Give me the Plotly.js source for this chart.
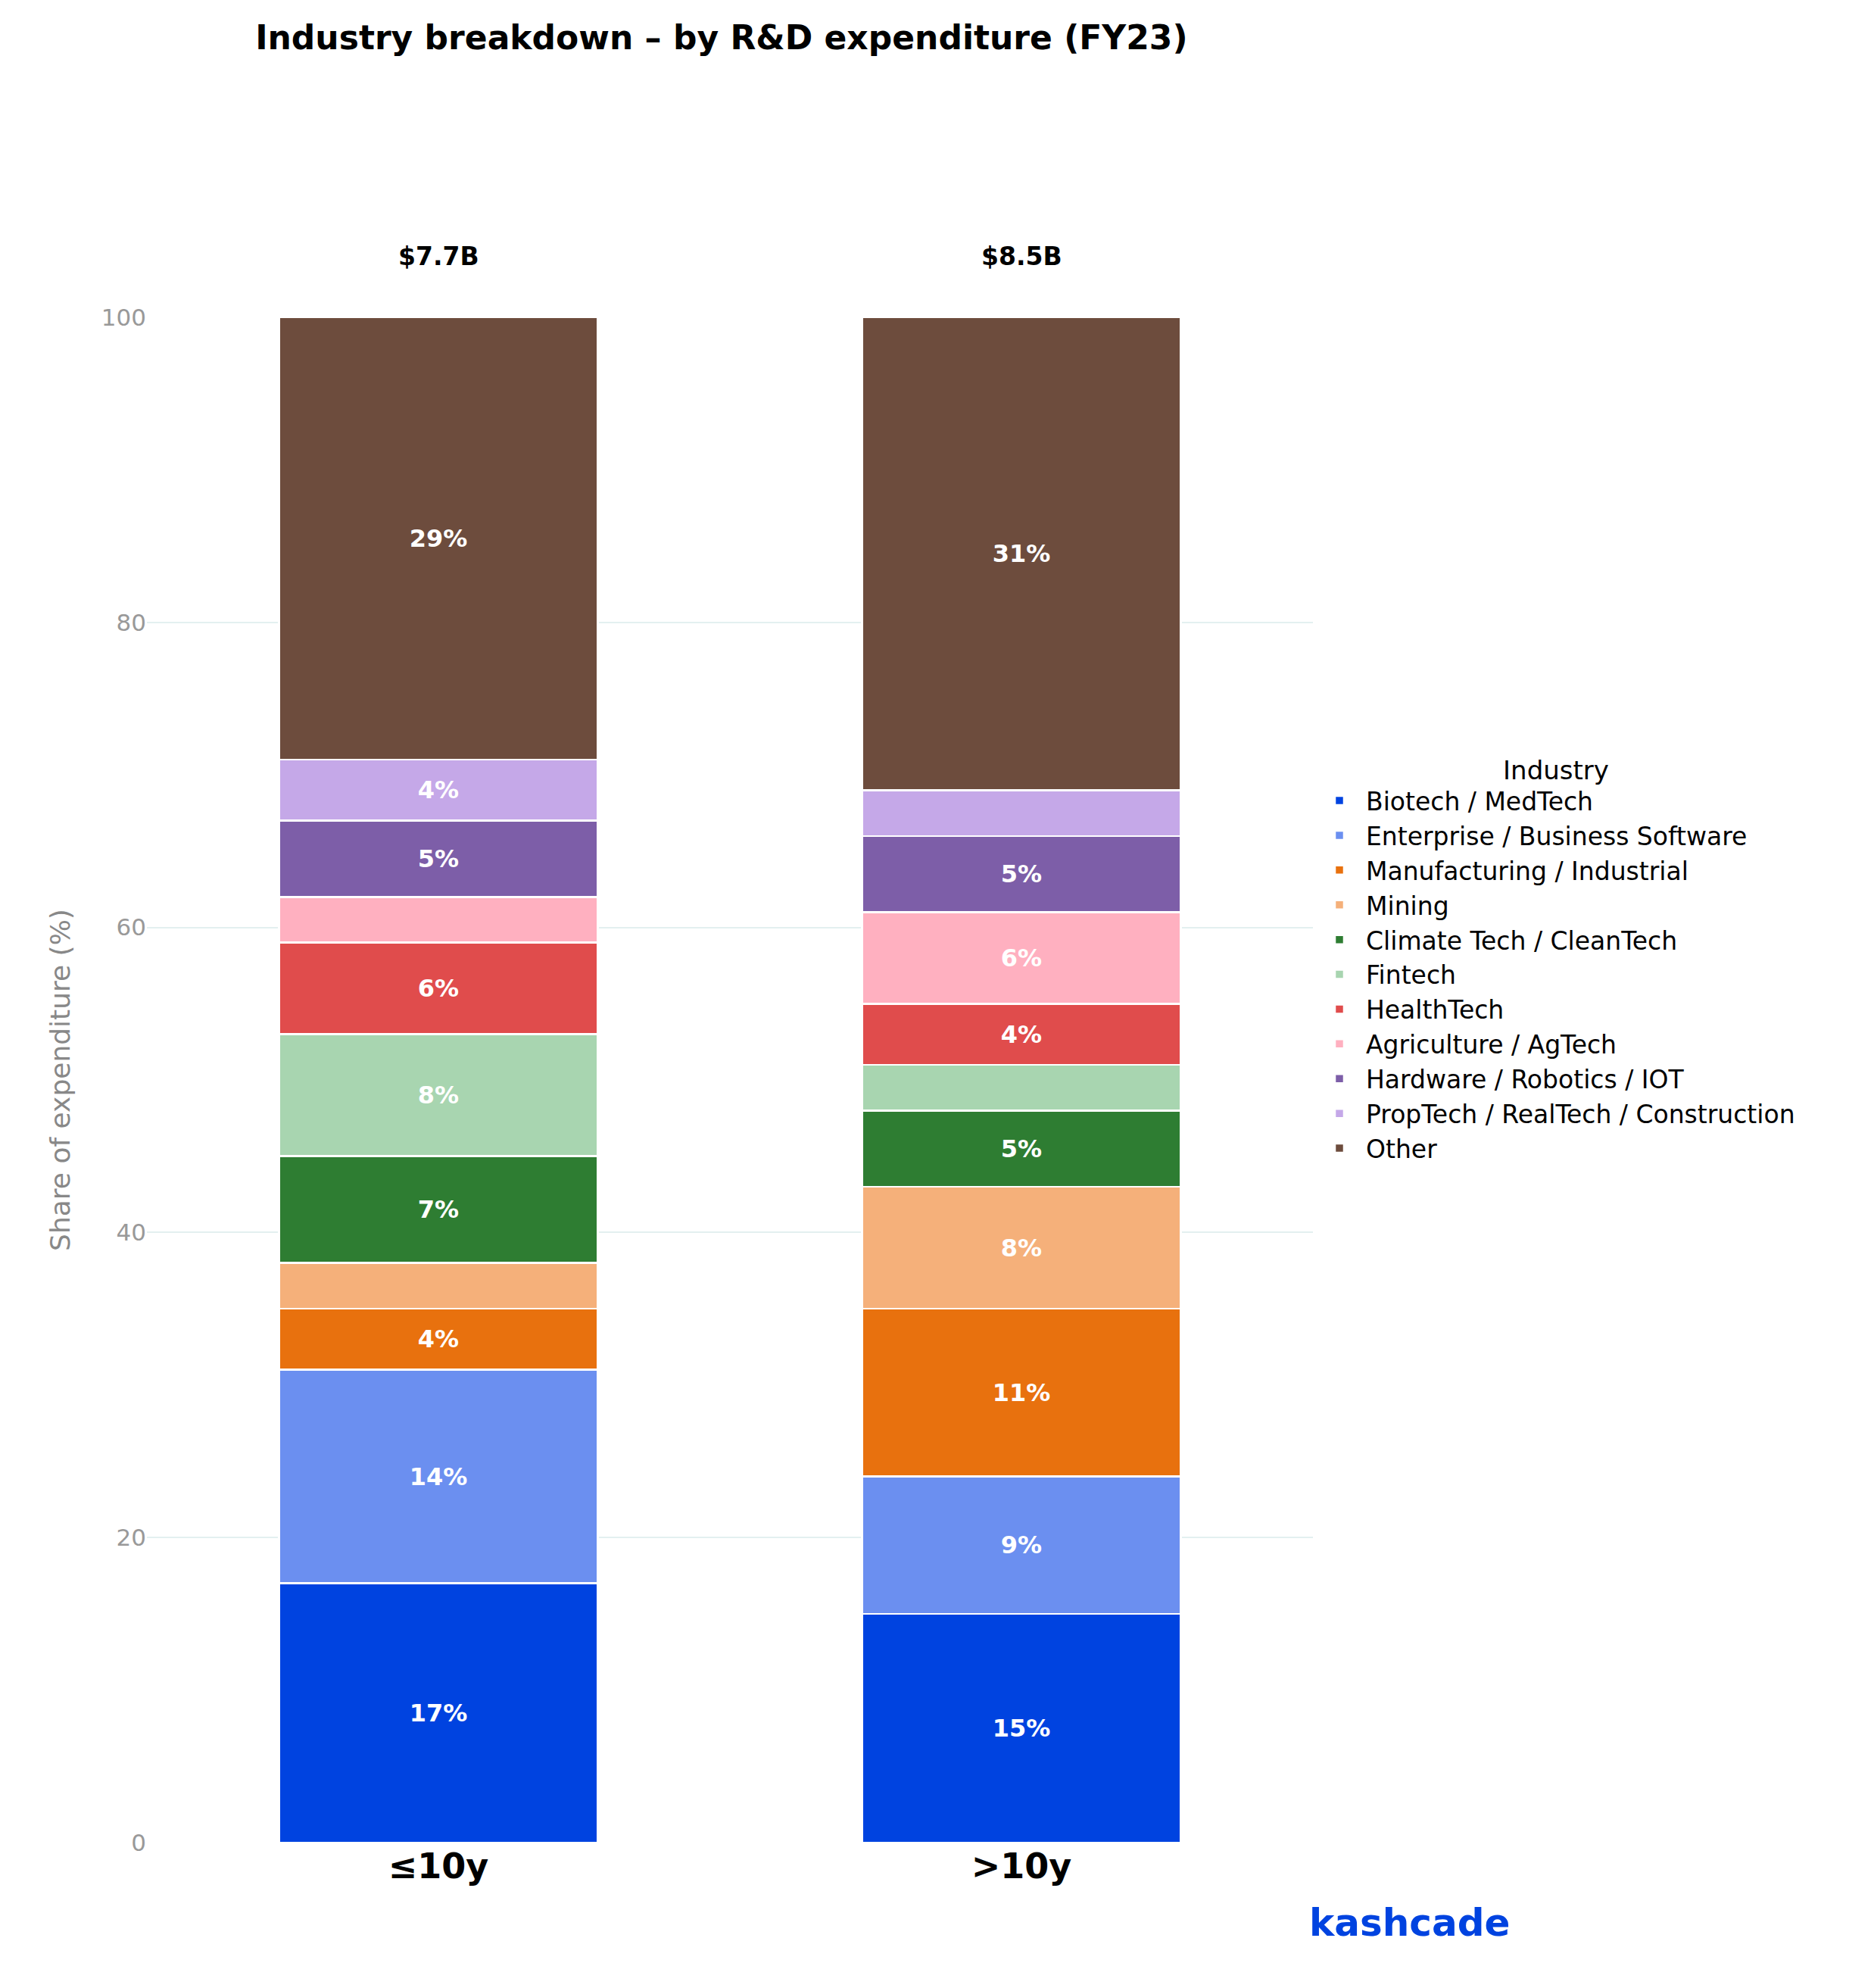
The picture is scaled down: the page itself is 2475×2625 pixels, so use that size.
<!DOCTYPE html>
<html>
<head>
<meta charset="utf-8">
<script src="https://cdn.plot.ly/plotly-3.0.1.min.js"></script>
<style>body{margin:0;background:#fff}</style>
</head>
<body>
<div id="chart" style="width:2475px;height:2625px"></div>
<script>
// ---------------------------- data --------------------------------------------
var groups = ["≤10y", ">10y"];
var totals = ["$7.7B", "$8.5B"];
var industries = [
  "Biotech / MedTech", "Enterprise / Business Software", "Manufacturing / Industrial",
  "Mining", "Climate Tech / CleanTech", "Fintech", "HealthTech",
  "Agriculture / AgTech", "Hardware / Robotics / IOT",
  "PropTech / RealTech / Construction", "Other"
];
var shareYoung = [17, 14, 4, 3, 7, 8, 6, 3, 5, 4, 29];
var shareOld = [15, 9, 11, 8, 5, 3, 4, 6, 5, 3, 31];
var colors = ["#0043e0", "#6b8ff0", "#e8710e", "#f5b07a", "#2e7d32", "#a8d5b0",
  "#e04c4c", "#ffb0c0", "#7d5ea8", "#c5a8e8", "#6d4c3d"];
// ==============================================================================

var font = "DejaVu Sans, sans-serif";

var data = [];
for (var i = 0; i < industries.length; i++) {
  var vals = [shareYoung[i], shareOld[i]];
  data.push({
    type: "bar",
    x: groups,
    y: vals,
    name: industries[i],
    width: 0.547,
    marker: {color: colors[i], line: {color: "#ffffff", width: 2.5}},
    text: vals.map(function (v) { return v >= 4 ? "<b>" + v + "%</b>" : ""; }),
    textposition: "inside",
    insidetextanchor: "middle",
    textfont: {family: font, size: 32, color: "#ffffff"},
    hoverinfo: "name+y"
  });
}

var annotations = groups.map(function (g, k) {
  return {
    x: g, xref: "x", y: 1.04, yref: "paper", yanchor: "middle",
    text: "<b>" + totals[k] + "</b>", showarrow: false,
    font: {family: font, size: 33, color: "#000"}
  };
});
annotations.push({
  x: 1920, xref: "paper", y: 0, yref: "paper", showarrow: false,
  text: "<b>kashcade</b>", font: {family: font, size: 50, color: "#0043e0"}
});
annotations[2].x = 1.17;
annotations[2].y = -0.068;

var layout = {
  width: 2475, height: 2625,
  margin: {l: 194, r: 741, t: 419, b: 192},
  paper_bgcolor: "#fff", plot_bgcolor: "#fff",
  barmode: "stack",
  font: {family: font},
  title: {
    text: "<b>Industry breakdown – by R&D expenditure (FY23)</b>",
    x: 0.385, xanchor: "center", y: 0.981, yanchor: "middle",
    font: {family: font, size: 44, color: "#000"}
  },
  xaxis: {
    range: [-0.5, 1.5],
    showgrid: false, zeroline: false, showline: false, ticks: "",
    tickfont: {family: font, size: 46, color: "#000", weight: "bold"}
  },
  yaxis: {
    range: [0, 100], dtick: 20,
    showgrid: true, gridcolor: "#e3f0f0", gridwidth: 2,
    zeroline: false, showline: false, ticks: "",
    tickfont: {family: font, size: 31, color: "#999"},
    title: {text: "Share of expenditure (%)", font: {family: font, size: 36, color: "#888"}, standoff: 30}
  },
  legend: {
    x: 1.0, xanchor: "left", y: 0.58, yanchor: "middle",
    traceorder: "normal",
    font: {family: font, size: 33, color: "#000"},
    title: {text: "Industry", side: "top center", font: {family: font, size: 34, color: "#000"}},
    itemwidth: 60, tracegroupgap: 0
  },
  annotations: annotations
};

Plotly.newPlot("chart", data, layout, {displayModeBar: false});
</script>
</body>
</html>
